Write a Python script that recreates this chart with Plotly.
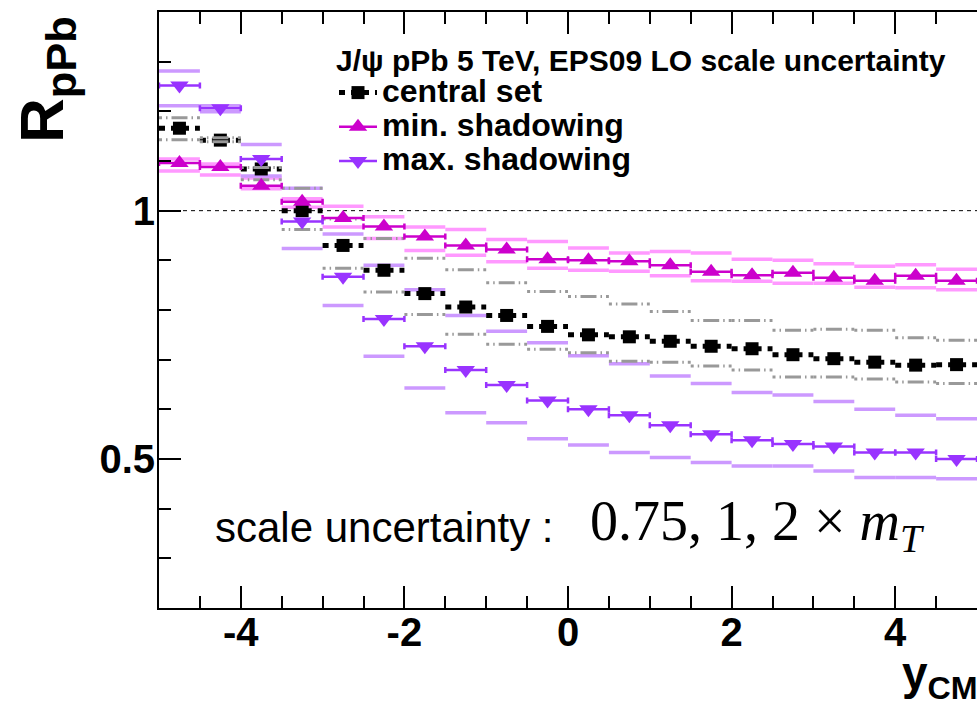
import plotly.graph_objects as go

# ---- binning in centre-of-mass rapidity ----
y_cm = [-4.75, -4.25, -3.75, -3.25, -2.75, -2.25, -1.75, -1.25, -0.75, -0.25,
        0.25, 0.75, 1.25, 1.75, 2.25, 2.75, 3.25, 3.75, 4.25, 4.75]
BIN_WIDTH = 0.5

# ---- R_pPb, EPS09 LO central set ----
central = [1.166, 1.142, 1.084, 1.000, 0.930, 0.880, 0.833, 0.806, 0.789, 0.767,
           0.750, 0.746, 0.737, 0.727, 0.722, 0.710, 0.702, 0.695, 0.689, 0.690]
central_hi = [1.187, 1.147, 1.087, 1.045, 0.983, 0.944, 0.904, 0.881, 0.855, 0.837,
              0.827, 0.812, 0.797, 0.779, 0.779, 0.759, 0.761, 0.759, 0.744, 0.739]
central_lo = [1.143, 1.139, 1.062, 0.962, 0.884, 0.836, 0.791, 0.751, 0.731, 0.721,
              0.714, 0.697, 0.695, 0.687, 0.679, 0.665, 0.665, 0.661, 0.655, 0.652]

# ---- minimal shadowing ----
min_sh = [1.096, 1.088, 1.050, 1.018, 0.985, 0.968, 0.948, 0.930, 0.922, 0.902,
          0.900, 0.898, 0.890, 0.877, 0.870, 0.875, 0.865, 0.859, 0.869, 0.859]
min_hi = [1.104, 1.094, 1.066, 1.024, 1.009, 0.988, 0.967, 0.962, 0.942, 0.938,
          0.925, 0.915, 0.918, 0.915, 0.902, 0.900, 0.893, 0.888, 0.891, 0.882]
min_lo = [1.080, 1.072, 1.044, 1.007, 0.967, 0.944, 0.920, 0.910, 0.897, 0.884,
          0.880, 0.878, 0.869, 0.859, 0.858, 0.854, 0.854, 0.846, 0.845, 0.841]

# ---- maximal shadowing ----
max_sh = [1.252, 1.206, 1.104, 0.978, 0.867, 0.782, 0.727, 0.679, 0.649, 0.618,
          0.600, 0.588, 0.568, 0.550, 0.538, 0.530, 0.525, 0.513, 0.513, 0.500]
max_hi = [1.281, 1.211, 1.133, 1.045, 0.953, 0.890, 0.841, 0.789, 0.757, 0.734,
          0.708, 0.692, 0.667, 0.652, 0.634, 0.629, 0.616, 0.600, 0.588, 0.581]
max_lo = [1.211, 1.199, 1.070, 0.924, 0.809, 0.707, 0.643, 0.593, 0.573, 0.541,
          0.528, 0.513, 0.503, 0.493, 0.486, 0.486, 0.476, 0.463, 0.463, 0.460]

x_tickvals = [-4, -2, 0, 2, 4]
x_ticktext = ["-4", "-2", "0", "2", "4"]
y_tickvals = [0.5, 1.0]
y_ticktext = ["0.5", "1"]

LEGEND_TITLE = "J/\u03c8 pPb 5 TeV, EPS09 LO scale uncertainty"
NAMES = ["central set", "min. shadowing", "max. shadowing"]

# ---- colours ----
C_CENTRAL = "#000000"
C_SCALE = "#999999"
C_MIN = "#cc00cc"
C_MIN_BAND = "#ff99ff"
C_MAX = "#9933ff"
C_MAX_BAND = "#cc99ff"

SANS = "Liberation Sans, Arial, Helvetica, sans-serif"
SERIF = "Liberation Serif, Times New Roman, serif"

W, H = 977, 712
ML, MR, MT, MB = 159, 0, 12, 104
PW, PH = W - ML - MR, H - MT - MB


def px_x(p):
    return (p - ML) / PW


def px_y(p):
    return (H - MB - p) / PH


def steps(*series):
    """Horizontal bin-wide segments for one or more series."""
    xs, ys = [], []
    for vals in series:
        for c, v in zip(y_cm, vals):
            xs += [c - BIN_WIDTH / 2, c + BIN_WIDTH / 2, None]
            ys += [v, v, None]
    return xs, ys


def points(vals):
    """Bin centres separated by gaps, so no connecting line is drawn."""
    xs, ys = [], []
    for c, v in zip(y_cm, vals):
        xs += [c, None]
        ys += [v, None]
    return xs, ys


def sized(text, px):
    # legend rows are spaced by the legend font; the visible text size is set here
    return '<span style="font-size:%dpx">%s</span>' % (px, text)


fig = go.Figure()

# scale-variation envelopes of the shadowing sets
bx, by = steps(min_hi, min_lo)
fig.add_trace(go.Scatter(x=bx, y=by, mode="lines", showlegend=False,
                         line=dict(color=C_MIN_BAND, width=3.5), hoverinfo="skip"))
bx, by = steps(max_hi, max_lo)
fig.add_trace(go.Scatter(x=bx, y=by, mode="lines", showlegend=False,
                         line=dict(color=C_MAX_BAND, width=3.5), hoverinfo="skip"))

# central set: thick dotted bin segments + square markers
DOT = "6px,6px"
bx, by = steps(central)
fig.add_trace(go.Scatter(x=bx, y=by, mode="lines", showlegend=False,
                         line=dict(color=C_CENTRAL, width=5, dash=DOT), hoverinfo="skip"))
px_, py_ = points(central)
fig.add_trace(go.Scatter(x=px_, y=py_, mode="lines+markers", name=sized(NAMES[0], 32),
                         line=dict(color=C_CENTRAL, width=5, dash=DOT),
                         marker=dict(symbol="square", size=13, color=C_CENTRAL)))

# central set scale envelope (dash-dot grey)
DASHDOT = "3px,4px,1.5px,4px,16px,4px,1.5px,4px,3px,12px"
bx, by = steps(central_hi, central_lo)
fig.add_trace(go.Scatter(x=bx, y=by, mode="lines", showlegend=False,
                         line=dict(color=C_SCALE, width=3, dash=DASHDOT), hoverinfo="skip"))

# shadowing sets with bin-width error bars
for vals, col, sym, name in [(min_sh, C_MIN, "triangle-up", NAMES[1]),
                             (max_sh, C_MAX, "triangle-down", NAMES[2])]:
    px_, py_ = points(vals)
    fig.add_trace(go.Scatter(
        x=px_, y=py_, mode="lines+markers", name=sized(name, 32),
        line=dict(color=col, width=2.5),
        marker=dict(symbol=sym, size=16, color=col, line=dict(width=0)),
        error_x=dict(type="constant", value=BIN_WIDTH / 2, color=col,
                     thickness=2.5, width=3),
    ))

# reference line at R = 1
fig.add_shape(type="line", xref="paper", x0=0, x1=1, yref="y", y0=1, y1=1,
              line=dict(color="black", width=1, dash="4px,4px"), layer="below")

axis_common = dict(showgrid=False, zeroline=False, ticks="inside",
                   tickcolor="black", tickwidth=1.5, ticklen=22,
                   tickfont=dict(family=SANS, size=40, color="black", weight="bold"))

fig.update_layout(
    width=W, height=H,
    margin=dict(l=ML, r=MR, t=MT, b=MB),
    paper_bgcolor="white", plot_bgcolor="white",
    xaxis=dict(range=[-5, 5], tickmode="array", tickvals=x_tickvals, ticktext=x_ticktext,
               showline=True, linecolor="black", linewidth=2, mirror="ticks",
               minor=dict(ticks="inside", dtick=0.5, tick0=0, ticklen=12,
                          tickwidth=1.5, tickcolor="black"),
               ticklabelstandoff=-12, **axis_common),
    yaxis=dict(range=[0.2, 1.4], tickmode="array", tickvals=y_tickvals, ticktext=y_ticktext,
               showline=True, linecolor="black", linewidth=2, mirror=False,
               minor=dict(ticks="inside", dtick=0.1, tick0=0, ticklen=12,
                          tickwidth=1.5, tickcolor="black"),
               ticklabelstandoff=-6, **axis_common),
    yaxis2=dict(range=[0.2, 1.4], overlaying="y", side="right", anchor="x",
                matches="y", showline=False, showticklabels=False,
                tickmode="array", tickvals=y_tickvals,
                minor=dict(ticks="inside", dtick=0.1, tick0=0, ticklen=12,
                           tickwidth=1.5, tickcolor="black"),
                **axis_common),
    legend=dict(x=px_x(334), y=px_y(25), xanchor="left", yanchor="top",
                bgcolor="rgba(0,0,0,0)", borderwidth=0, itemwidth=38,
                font=dict(family=SANS, size=24, color="black", weight="bold"),
                title=dict(text=sized(LEGEND_TITLE, 30), side="top",
                           font=dict(family=SANS, size=35, color="black", weight="bold"))),
    showlegend=True,
)

# axis titles
fig.add_annotation(text="R<sub>pPb</sub>", textangle=-90, showarrow=False,
                   xref="paper", yref="paper", x=px_x(46), y=px_y(80),
                   xanchor="center", yanchor="middle",
                   font=dict(family=SANS, size=62, color="black", weight="bold"))
fig.add_annotation(text="y<sub>CM</sub>", showarrow=False,
                   xref="paper", yref="paper", x=px_x(900), y=px_y(645),
                   xanchor="left", yanchor="top",
                   font=dict(family=SANS, size=46, color="black", weight="bold"))

# scale-choice note
fig.add_annotation(text="scale uncertainty :", showarrow=False,
                   xref="paper", yref="paper", x=px_x(213), y=px_y(527),
                   xanchor="left", yanchor="middle",
                   font=dict(family=SANS, size=42, color="black"))
fig.add_annotation(text="0.75, 1, 2 \u00d7 <i>m</i><sub><i>T</i></sub>", showarrow=False,
                   xref="paper", yref="paper", x=px_x(588), y=px_y(525),
                   xanchor="left", yanchor="middle",
                   font=dict(family=SERIF, size=56, color="black"))

fig.write_html("out.html")
